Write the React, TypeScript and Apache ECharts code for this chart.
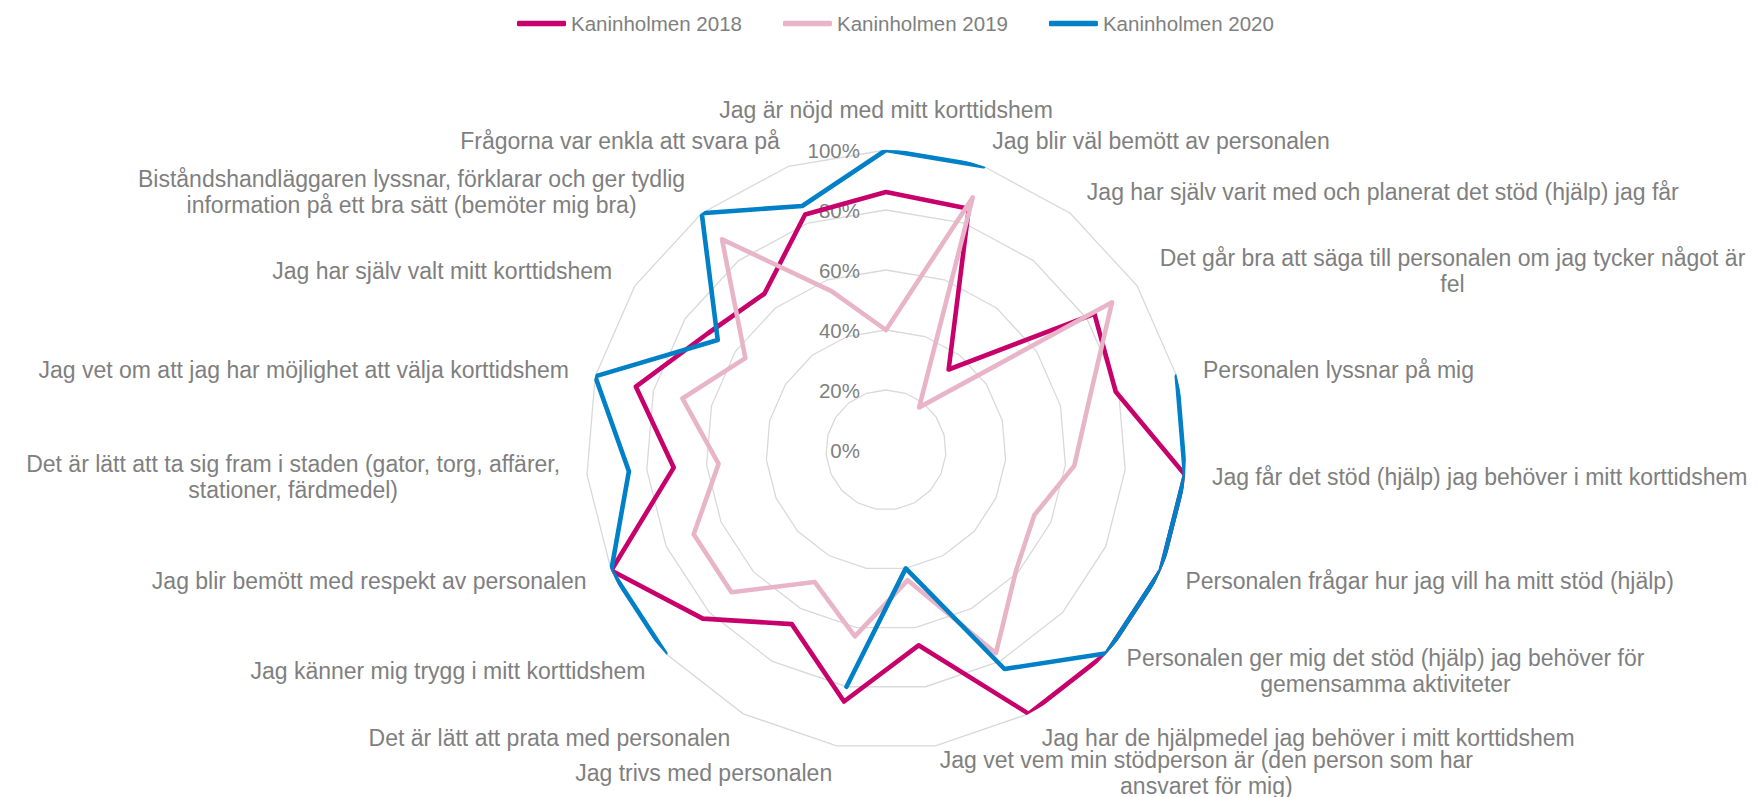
import React, { useEffect, useRef } from 'react';
import * as echarts from 'echarts';

// Indicator names, clockwise from the top
const indicatorNames: string[] = [
  'Jag är nöjd med mitt korttidshem',
  'Jag blir väl bemött av personalen',
  'Jag har själv varit med och planerat det stöd (hjälp) jag får',
  'Det går bra att säga till personalen om jag tycker något är\nfel',
  'Personalen lyssnar på mig',
  'Jag får det stöd (hjälp) jag behöver i mitt korttidshem',
  'Personalen frågar hur jag vill ha mitt stöd (hjälp)',
  'Personalen ger mig det stöd (hjälp) jag behöver för\ngemensamma aktiviteter',
  'Jag har de hjälpmedel jag behöver i mitt korttidshem',
  'Jag vet vem min stödperson är (den person som har\nansvaret för mig)',
  'Jag trivs med personalen',
  'Det är lätt att prata med personalen',
  'Jag känner mig trygg i mitt korttidshem',
  'Jag blir bemött med respekt av personalen',
  'Det är lätt att ta sig fram i staden (gator, torg, affärer,\nstationer, färdmedel)',
  'Jag vet om att jag har möjlighet att välja korttidshem',
  'Jag har själv valt mitt korttidshem',
  'Biståndshandläggaren lyssnar, förklarar och ger tydlig\ninformation på ett bra sätt (bemöter mig bra)',
  'Frågorna var enkla att svara på',
];

const seriesNames: string[] = ['Kaninholmen 2018', 'Kaninholmen 2019', 'Kaninholmen 2020'];

// Percent values, same order as indicatorNames
const values2018: (number | null)[] = [86, 85, 34, 83, 79, 100, 100, 100, 100, 66, 85, 66, 83, 100, 71, 86, 71, 66, 83];
const values2019: (number | null)[] = [40, 89, 18, 90, 70, 63, 54, 59, 77, 44, 63, 50, 70, 70, 56, 70, 56, 89, 56];
const values2020: (number | null)[] = [100, 100, null, null, 100, 100, 100, 100, 83, 40, 80, null, 100, 100, 86, 100, 67, 100, 86];

const axisMin = 0;
const axisMax = 100;
const axisSplits = 5;

const seriesColors = ['#c8006b', '#e8b5c8', '#0080c6'];
const FONT = '"Liberation Sans", Arial, sans-serif';
const TEXT = '#7f7f7f';

function richName(name: string): string {
  if (name.indexOf('\n') < 0) return name;
  return name.split('\n').map((l) => `{c|${l}}`).join('\n');
}

export default function App() {
  const ref = useRef<HTMLDivElement>(null);

  useEffect(() => {
    if (!ref.current) return;
    const chart = echarts.init(ref.current, undefined, { renderer: 'svg' });
    const n = indicatorNames.length;
    // ECharts radar places indicators counter-clockwise; reverse to get clockwise order
    const order = [0, ...Array.from({ length: n - 1 }, (_, k) => n - 1 - k)];
    const indicator = order.map((i) => {
      const item: any = { name: richName(indicatorNames[i]), min: axisMin, max: axisMax };
      if (i === 0) item.axisLabel = { show: true };
      return item;
    });

    const allValues = [values2018, values2019, values2020];
    const series = allValues.map((vals, s) => ({
      name: seriesNames[s],
      type: 'line',
      coordinateSystem: 'polar',
      showSymbol: false,
      symbol: 'none',
      connectNulls: false,
      silent: true,
      z: 5 + s,
      itemStyle: { color: seriesColors[s] },
      lineStyle: { color: seriesColors[s], width: 4.6, cap: 'round', join: 'round' },
      data: vals.concat([vals[0]]).map((v, i) => (v == null ? ['-', i] : [v, i])),
    }));

    const option: any = {
      animation: false,
      backgroundColor: '#ffffff',
      textStyle: { fontFamily: FONT },
      legend: {
        data: seriesNames,
        left: 512,
        top: 8,
        icon: 'roundRect',
        itemWidth: 49,
        itemHeight: 5.5,
        itemGap: 41,
        selectedMode: false,
        textStyle: { color: TEXT, fontSize: 20.5, fontFamily: FONT },
      },
      radar: {
        center: [886, 450],
        radius: 300,
        startAngle: 90,
        shape: 'polygon',
        splitNumber: axisSplits,
        nameGap: 27,
        axisName: {
          color: TEXT,
          fontSize: 23,
          fontFamily: FONT,
          lineHeight: 26,
          rich: { c: { align: 'center', color: TEXT, fontSize: 23, fontFamily: FONT, lineHeight: 26 } },
        },
        axisLine: { show: false },
        axisTick: { show: false },
        axisLabel: { show: false, formatter: '{value}%', color: TEXT, fontSize: 20.5, fontFamily: FONT, margin: 26 },
        splitLine: { lineStyle: { color: '#d9d9d9', width: 1.3 } },
        splitArea: { show: false },
        indicator,
      },
      polar: { center: [886, 450], radius: 300 },
      angleAxis: { type: 'value', min: 0, max: n, startAngle: 90, clockwise: true, show: false },
      radiusAxis: { type: 'value', min: axisMin, max: axisMax, show: false },
      series,
    };
    chart.setOption(option);
    return () => chart.dispose();
  }, []);

  return (
    <div
      ref={ref}
      style={{ position: 'fixed', left: 0, top: 0, width: 1758, height: 797, background: '#fff' }}
    />
  );
}
